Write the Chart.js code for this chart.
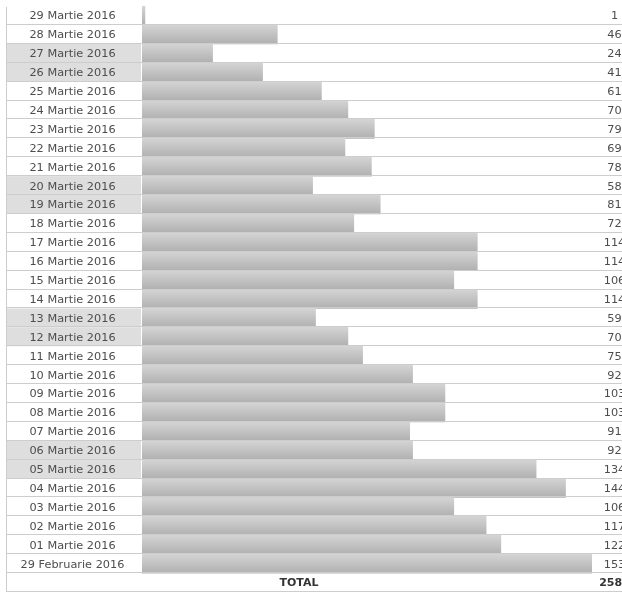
<!DOCTYPE html>
<html>
<head>
<meta charset="utf-8">
<script src="https://cdn.jsdelivr.net/npm/chart.js@4.4.1/dist/chart.umd.min.js"></script>
<style>
  html, body { margin: 0; padding: 0; background: #fff; }
  canvas { display: block; }
</style>
</head>
<body>
<canvas id="chart" width="622" height="592"></canvas>
<script>
const days = [
  '29 Martie 2016', '28 Martie 2016', '27 Martie 2016', '26 Martie 2016', '25 Martie 2016',
  '24 Martie 2016', '23 Martie 2016', '22 Martie 2016', '21 Martie 2016', '20 Martie 2016',
  '19 Martie 2016', '18 Martie 2016', '17 Martie 2016', '16 Martie 2016', '15 Martie 2016',
  '14 Martie 2016', '13 Martie 2016', '12 Martie 2016', '11 Martie 2016', '10 Martie 2016',
  '09 Martie 2016', '08 Martie 2016', '07 Martie 2016', '06 Martie 2016', '05 Martie 2016',
  '04 Martie 2016', '03 Martie 2016', '02 Martie 2016', '01 Martie 2016', '29 Februarie 2016'
];
const visits = [
  1, 46, 24, 41, 61,
  70, 79, 69, 78, 58,
  81, 72, 114, 114, 106,
  114, 59, 70, 75, 92,
  103, 103, 91, 92, 134,
  144, 106, 117, 122, 153
];
const totalLabel = 'TOTAL';
const monthIndex = { 'Ianuarie': 0, 'Februarie': 1, 'Martie': 2 };

const total = visits.reduce((a, b) => a + b, 0);
const rows = days.concat([totalLabel]);

// weekend rows get a grey label cell
function isWeekend(label) {
  const [d, m, y] = label.split(' ');
  const wd = new Date(+y, monthIndex[m], +d).getDay();
  return wd === 0 || wd === 6;
}

const FONT = '"DejaVu Sans", Verdana, sans-serif';
const TEXT = '#4d4d4d';
const LINE = '#cdcdcd';
const LEFT = 6;
const LABEL_RIGHT = 141;
const LABEL_CENTER = 72.5;
const VALUE_CENTER = 614.5;

function rowBounds(chart, i) {
  const y = chart.scales.y;
  const c = y.getPixelForValue(i);
  const half = (y.getPixelForValue(1) - y.getPixelForValue(0)) / 2;
  return [c - half, c + half, c];
}

const tablePlugin = {
  id: 'table',
  beforeDatasetsDraw(chart) {
    const ctx = chart.ctx;
    ctx.save();
    days.forEach((d, i) => {
      if (!isWeekend(d)) return;
      const [top, bottom] = rowBounds(chart, i);
      ctx.fillStyle = '#dedede';
      ctx.fillRect(LEFT, top, LABEL_RIGHT - LEFT, bottom - top);
    });
    ctx.restore();
  },
  afterDatasetsDraw(chart) {
    const ctx = chart.ctx;
    const area = chart.chartArea;
    ctx.save();

    // white gap between label column and bars
    ctx.fillStyle = '#fff';
    ctx.fillRect(LABEL_RIGHT, area.top, 1, area.bottom - area.top);

    // row separators
    ctx.strokeStyle = LINE;
    ctx.lineWidth = 1;
    rows.forEach((r, i) => {
      const [, bottom] = rowBounds(chart, i);
      const yy = Math.round(bottom) - 0.5;
      ctx.beginPath();
      ctx.moveTo(LEFT, yy);
      ctx.lineTo(chart.width, yy);
      ctx.stroke();
    });
    ctx.beginPath();
    ctx.moveTo(LEFT + 0.5, area.top + 1);
    ctx.lineTo(LEFT + 0.5, chart.height);
    ctx.stroke();

    ctx.textBaseline = 'middle';
    ctx.textAlign = 'center';
    ctx.fillStyle = TEXT;
    ctx.font = '11.3px ' + FONT;
    days.forEach((d, i) => {
      const [, , c] = rowBounds(chart, i);
      ctx.fillText(d, LABEL_CENTER, c + 1);
      ctx.fillText(String(visits[i]), VALUE_CENTER, c + 1);
    });

    const [, , tc] = rowBounds(chart, rows.length - 1);
    ctx.font = 'bold 11px ' + FONT;
    ctx.fillStyle = '#333';
    ctx.fillText(totalLabel, (LEFT + area.right) / 2, tc + 1);
    ctx.fillText(String(total), VALUE_CENTER, tc + 1);

    ctx.restore();
  }
};

new Chart(document.getElementById('chart'), {
  type: 'bar',
  data: {
    labels: rows,
    datasets: [{
      data: visits.concat([null]),
      barPercentage: 1,
      categoryPercentage: 1,
      borderWidth: 0,
      backgroundColor: (c) => {
        const chart = c.chart;
        if (!chart.chartArea) return '#c2c2c2';
        const [top, bottom] = rowBounds(chart, c.dataIndex);
        const g = chart.ctx.createLinearGradient(0, top, 0, bottom);
        g.addColorStop(0, '#d4d4d4');
        g.addColorStop(1, '#b0b0b0');
        return g;
      }
    }]
  },
  options: {
    indexAxis: 'y',
    responsive: false,
    animation: false,
    devicePixelRatio: 1,
    layout: { padding: { left: 142, right: 30, top: 6, bottom: 0 } },
    plugins: { legend: { display: false }, tooltip: { enabled: false } },
    scales: {
      x: { display: false, min: 0, max: 153 },
      y: { display: false }
    }
  },
  plugins: [tablePlugin]
});
</script>
</body>
</html>
